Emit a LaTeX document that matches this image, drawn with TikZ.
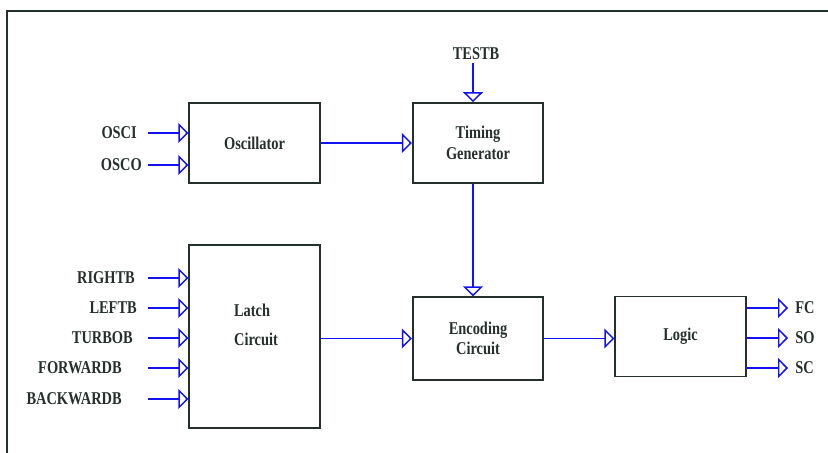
\documentclass[tikz,border=0pt]{standalone}
\usepackage{fontspec}
\setmainfont{Liberation Serif}[FakeStretch=0.8]
\usetikzlibrary{arrows.meta}
\definecolor{frm}{HTML}{26302B}
\definecolor{sigblue}{HTML}{1212F2}

\begin{document}
\begin{tikzpicture}[
    x=0.75pt, y=-0.75pt,
    font=\fontsize{13.5}{15}\selectfont\bfseries,
    txt/.style={text=frm, inner sep=0pt},
    blk/.style={draw=frm, line width=1.3pt, text=frm, align=center,
      minimum width=98pt, minimum height=60pt},
    sig/.style={draw=sigblue, line width=1.1pt,
      -{Triangle[open, length=7.5pt, width=15pt]}}]
  \useasboundingbox (0,0) rectangle (828,453);
  % frame
  \draw[frm, line width=1.3pt] (7,453) -- (7,11) -- (828,11);
  % blocks
  \node[blk] (osc) at (254.5,143) {Oscillator};
  \node[blk] (tim) at (478,143) {Timing\\[1pt]Generator};
  \node[blk, minimum height=137pt] (latch) at (254.5,336.5) {};
  \node[txt, align=left] (latchtxt) at (256,325) {Latch\\[7pt]Circuit};
  \node[blk, minimum height=62pt] (enc) at (478,338.5) {Encoding\\Circuit};
  \node[blk] (logic) at (680.5,336.5) {Logic};
  % test input
  \node[txt] (testb) at (476,54) {TESTB};
  \coordinate (testb-s) at (473,63);
  \draw[sig] (testb-s) -- (testb-s |- tim.north);
  % oscillator inputs
  \node[txt, anchor=east] (osci) at (137,133) {OSCI};
  \coordinate (osci-s) at (148,133);
  \draw[sig] (osci-s) -- (osci-s -| osc.west);
  \node[txt, anchor=east] (osco) at (142,165) {OSCO};
  \coordinate (osco-s) at (148,165);
  \draw[sig] (osco-s) -- (osco-s -| osc.west);
  % latch inputs
  \node[txt, anchor=east] (rightb) at (135,278) {RIGHTB};
  \coordinate (rightb-s) at (148,278);
  \draw[sig] (rightb-s) -- (rightb-s -| latch.west);
  \node[txt, anchor=east] (leftb) at (137,308) {LEFTB};
  \coordinate (leftb-s) at (148,308);
  \draw[sig] (leftb-s) -- (leftb-s -| latch.west);
  \node[txt, anchor=east] (turbob) at (133,338) {TURBOB};
  \coordinate (turbob-s) at (148,338);
  \draw[sig] (turbob-s) -- (turbob-s -| latch.west);
  \node[txt, anchor=east] (forwardb) at (122,368) {FORWARDB};
  \coordinate (forwardb-s) at (148,368);
  \draw[sig] (forwardb-s) -- (forwardb-s -| latch.west);
  \node[txt, anchor=east] (backwardb) at (122,399) {BACKWARDB};
  \coordinate (backwardb-s) at (148,399);
  \draw[sig] (backwardb-s) -- (backwardb-s -| latch.west);
  % between blocks
  \draw[sig] (osc.east) -- (tim.west);
  \draw[sig] (testb-s |- tim.south) -- (testb-s |- enc.north);
  \draw[sig] (latch.east |- enc.west) -- (enc.west);
  \draw[sig] (enc.east) -- (enc.east -| logic.west);
  % outputs
  \coordinate (fc-e) at (788,308);
  \draw[sig] (fc-e -| logic.east) -- (fc-e);
  \node[txt, anchor=west] (fc) at (795,308) {FC};
  \coordinate (so-e) at (788,338);
  \draw[sig] (so-e -| logic.east) -- (so-e);
  \node[txt, anchor=west] (so) at (795,338) {SO};
  \coordinate (sc-e) at (788,368);
  \draw[sig] (sc-e -| logic.east) -- (sc-e);
  \node[txt, anchor=west] (sc) at (795,368) {SC};
\end{tikzpicture}
\end{document}
